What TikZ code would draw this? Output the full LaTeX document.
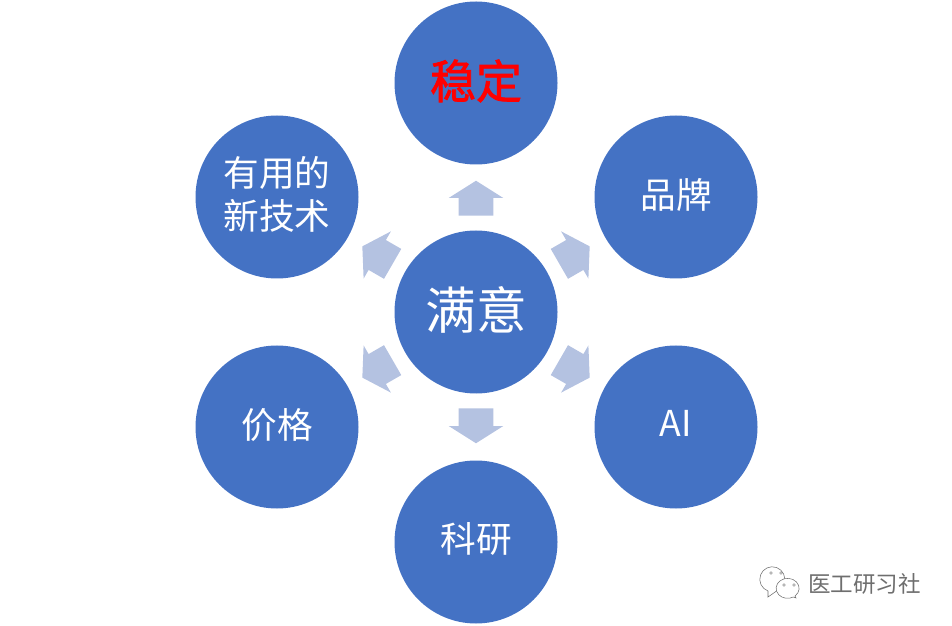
\documentclass[tikz,border=0pt]{standalone}
\usepackage{fontspec}
\setmainfont{Noto Sans CJK SC}
\newfontfamily\fatcjk[FakeBold=1.6]{Noto Sans CJK SC}
\usetikzlibrary{shapes.arrows}
\definecolor{discblue}{HTML}{4472C4}
\definecolor{arrowblue}{HTML}{B4C2E1}
\definecolor{markgrey}{HTML}{6E6E6E}
\tikzset{
	disc/.style={circle, fill=discblue, text=white, minimum size=122.25pt, inner sep=0pt, align=center, text depth=6pt, font=\fontsize{26.75pt}{32.5pt}\selectfont},
	blockarrow/.style={single arrow, fill=arrowblue, anchor=tail, inner xsep=0pt, inner ysep=12.75pt, minimum width=40.5pt, minimum height=26.25pt, single arrow head extend=7.5pt, single arrow tip angle=115.4},
}

\begin{document}
\begin{tikzpicture}[x=.75pt, y=.75pt]
		\useasboundingbox (0,0) rectangle (952,625);
		\node (satisfied) [disc, font=\fontsize{38pt}{40pt}\selectfont] at (476,313) {满意};
		\node (stable) [disc, text=red, font=\fontsize{34.5pt}{40pt}\fatcjk] at (476,542) {稳定};
		\node (brand) [disc] at (676,428) {品牌};
		\node (ai) [disc] at (676,198) {AI};
		\node (research) [disc] at (476,83) {科研};
		\node (price) [disc] at (277,198) {价格};
		\node (newtech) [disc] at (277,428) {有用的\\新技术};
		%Pfeile
		\foreach \ang/\arrowname in {90/stable, 30/brand, -30/ai, -90/research, 210/price, 150/newtech}
			\node (to\arrowname) [blockarrow, rotate=\ang] at ([shift={(\ang:96)}] satisfied.center) {};
		%Wasserzeichen
		\draw [markgrey, line width=.4pt, fill=white] (768,28) -- (768,34) arc[start angle=250, end angle=-70, x radius=12.5, y radius=12.5] -- cycle;
		\draw [markgrey, line width=.4pt, fill=white] (796,27) -- (795,29) arc[start angle=-50, end angle=300, x radius=11.5, y radius=10] -- cycle;
		\foreach \eyex/\eyey [count=\i] in {771/52, 781/52, 784/40, 794/40}
			\node (eye\i) [circle, draw=markgrey, line width=.3pt, inner sep=0pt, minimum size=2pt] at (\eyex,\eyey) {};
		\node (mark) [text=markgrey, anchor=west, inner sep=0pt, font=\fontsize{16.9pt}{20pt}\selectfont] at (808,41.5) {医工研习社};
	\end{tikzpicture}
\end{document}
